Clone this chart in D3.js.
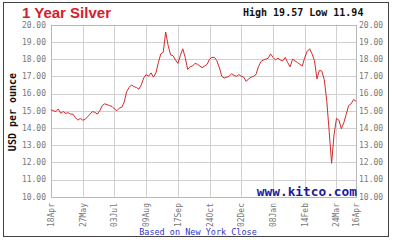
<!DOCTYPE html>
<html>
<head>
<meta charset="utf-8">
<script src="https://cdn.jsdelivr.net/npm/d3@7"></script>
<style>
  body { margin: 0; background: #fff; }
  svg { display: block; }
</style>
</head>
<body>
<div id="chart"></div>
<script>
// silver price, one point every ~2 trading days (NY close)
const prices = [
  15.05, 15.0, 14.95, 15.1, 14.85, 14.95, 14.85, 14.88, 14.8, 14.8,
  14.6, 14.45, 14.55, 14.45, 14.5, 14.65, 14.8, 14.95, 14.9, 14.8,
  15.0, 15.3, 15.4, 15.35, 15.3, 15.25, 15.1, 15.0, 15.15, 15.2,
  15.5, 16.1, 16.35, 16.5, 16.4, 16.35, 16.25, 16.5, 16.9, 17.1,
  17.0, 17.2, 16.95, 17.2, 17.8, 18.3, 18.4, 19.57, 18.8, 18.25,
  18.2, 17.95, 17.75, 18.2, 18.6, 18.1, 17.4, 17.55, 17.6, 17.75,
  17.7, 17.6, 17.5, 17.6, 17.7, 18.0, 18.1, 18.1, 17.9, 17.5,
  17.0, 16.9, 16.95, 17.0, 17.15, 17.05, 17.0, 17.1, 17.0, 16.95,
  16.7, 16.85, 16.95, 17.0, 17.1, 17.55, 17.85, 17.95, 18.0, 18.05,
  18.3, 18.1, 17.95, 18.05, 17.95, 17.9, 18.1, 17.8, 17.55, 18.0,
  17.9, 17.8, 17.7, 17.6, 18.1, 18.45, 18.6, 18.3, 17.9, 16.85,
  17.35, 17.3, 16.8, 15.6, 13.8, 11.94, 13.6, 14.55, 14.45, 13.95,
  14.3, 14.8, 15.3, 15.4, 15.65, 15.55
];

// x tick positions (index into prices) and their labels
const tickIdx = [0, 13, 26, 39, 52, 65, 78, 91, 104, 117, 125];
const tickLabels = ["18Apr", "27May", "03Jul", "09Aug", "17Sep", "24Oct",
                    "02Dec", "08Jan", "14Feb", "24Mar", "16Apr"];
const yTicks = [10, 11, 12, 13, 14, 15, 16, 17, 18, 19, 20];

const W = 393, H = 240;
const plot = { left: 51, right: 356, top: 24.7, bottom: 196.7 };

const svg = d3.select("#chart").append("svg")
    .attr("width", W)
    .attr("height", H);

// outer frame
svg.append("rect")
    .attr("x", 3.5).attr("y", 2.5)
    .attr("width", 385).attr("height", 234)
    .attr("fill", "#fff")
    .attr("stroke", "#444");

const x = d3.scaleLinear()
    .domain([0, prices.length - 1])
    .range([plot.left, plot.right]);

const y = d3.scaleLinear()
    .domain([10, 20])
    .range([plot.bottom, plot.top]);

// grid lines
svg.append("g")
    .selectAll("line.h")
    .data(yTicks)
    .join("line")
    .attr("x1", plot.left).attr("x2", plot.right)
    .attr("y1", d => Math.round(y(d)) + 0.5)
    .attr("y2", d => Math.round(y(d)) + 0.5)
    .attr("stroke", "#d0d0d0");

svg.append("g")
    .selectAll("line.v")
    .data(tickIdx)
    .join("line")
    .attr("x1", d => Math.round(x(d)) + 0.5)
    .attr("x2", d => Math.round(x(d)) + 0.5)
    .attr("y1", plot.top).attr("y2", plot.bottom)
    .attr("stroke", "#d0d0d0");

// plot border
svg.append("rect")
    .attr("x", plot.left + 0.5).attr("y", Math.round(plot.top) + 0.5)
    .attr("width", plot.right - plot.left)
    .attr("height", Math.round(plot.bottom) - Math.round(plot.top))
    .attr("fill", "none")
    .attr("stroke", "#b8b8b8");

// y labels, both sides
const yLab = svg.append("g")
    .attr("font-family", "DejaVu Sans Mono, monospace")
    .attr("font-size", 8)
    .attr("fill", "#777");

yLab.selectAll("text.l")
    .data(yTicks)
    .join("text")
    .attr("x", 46)
    .attr("y", d => y(d))
    .attr("dy", "0.35em")
    .attr("text-anchor", "end")
    .text(d => d.toFixed(2));

yLab.selectAll("text.r")
    .data(yTicks)
    .join("text")
    .attr("class", "r")
    .attr("x", 359)
    .attr("y", d => y(d))
    .attr("dy", "0.35em")
    .attr("text-anchor", "start")
    .text(d => d.toFixed(2));

// x labels, rotated
svg.append("g")
    .attr("font-family", "DejaVu Sans Mono, monospace")
    .attr("font-size", 8)
    .attr("fill", "#777")
    .selectAll("text")
    .data(tickIdx)
    .join("text")
    .attr("transform", (d, i) => `translate(${x(d) + 3},203) rotate(-90)`)
    .attr("text-anchor", "end")
    .text((d, i) => tickLabels[i]);

// price line
const line = d3.line()
    .x((d, i) => x(i))
    .y(d => y(d));

svg.append("path")
    .datum(prices)
    .attr("d", line)
    .attr("fill", "none")
    .attr("stroke", "#d42a2a")
    .attr("stroke-width", 1);

// texts
svg.append("text")
    .attr("x", 22).attr("y", 18)
    .attr("font-family", "Liberation Sans, Arial, sans-serif")
    .attr("font-weight", "bold")
    .attr("font-size", 15)
    .attr("fill", "#d4202c")
    .text("1 Year Silver");

svg.append("text")
    .attr("x", 243).attr("y", 15.5)
    .attr("font-family", "DejaVu Sans Mono, monospace")
    .attr("font-weight", "bold")
    .attr("font-size", 10)
    .attr("fill", "#111")
    .text(`High ${d3.max(prices).toFixed(2)} Low ${d3.min(prices).toFixed(2)}`);

svg.append("text")
    .attr("transform", "translate(16,112) rotate(-90)")
    .attr("text-anchor", "middle")
    .attr("font-family", "DejaVu Sans Mono, monospace")
    .attr("font-weight", "bold")
    .attr("font-size", 10)
    .attr("fill", "#111")
    .text("USD per ounce");

svg.append("text")
    .attr("x", 357).attr("y", 196)
    .attr("text-anchor", "end")
    .attr("font-family", "DejaVu Sans Mono, monospace")
    .attr("font-weight", "bold")
    .attr("font-size", 12.8)
    .attr("fill", "#1c1ca0")
    .text("www.kitco.com");

svg.append("text")
    .attr("x", 198).attr("y", 235)
    .attr("text-anchor", "middle")
    .attr("font-family", "DejaVu Sans Mono, monospace")
    .attr("font-size", 8.5)
    .attr("fill", "#3535c8")
    .text("Based on New York Close");
</script>
</body>
</html>
